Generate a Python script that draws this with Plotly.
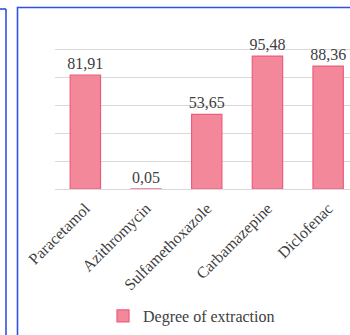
import plotly.graph_objects as go

categories = ["Paracetamol", "Azithromycin", "Sulfamethoxazole", "Carbamazepine", "Diclofenac"]
values = [81.91, 0.05, 53.65, 95.48, 88.36]
series_name = "Degree of extraction"
y_ticks = [0, 20, 40, 60, 80, 100, 120]

W, H = 350, 335
ML, MR, MT, MB = 55, 0, 22, 146
PW = W - ML - MR
PH = H - MT - MB

def px(x):
    return (x - ML) / PW

def py(y):
    return (H - MB - y) / PH

font_family = "Liberation Serif"
text_color = "#404040"

fig = go.Figure()
fig.add_trace(go.Bar(
    x=categories, y=values, name=series_name,
    width=0.5,
    marker=dict(color="#F4889B", line=dict(color="#EE5C7B", width=1.2)),
    texttemplate="%{y:.2f}", textposition="outside",
    textfont=dict(family=font_family, size=16, color=text_color),
    constraintext="none",
    cliponaxis=False,
))

blue = "#2F52E0"
shapes = [
    dict(type="rect", xref="paper", yref="paper",
         x0=px(17.5), x1=px(370), y0=py(7.5), y1=py(360),
         line=dict(color=blue, width=1.6), layer="below"),
    dict(type="line", xref="paper", yref="paper",
         x0=px(6), x1=px(6), y0=py(9), y1=py(360),
         line=dict(color=blue, width=1.6)),
    dict(type="line", xref="paper", yref="paper",
         x0=px(-20), x1=px(6), y0=py(9), y1=py(9),
         line=dict(color=blue, width=1.6)),
]

fig.update_layout(
    width=W, height=H,
    margin=dict(l=ML, r=MR, t=MT, b=MB),
    paper_bgcolor="white", plot_bgcolor="white",
    separators=", ",
    showlegend=True,
    legend=dict(orientation="h", x=px(103), xanchor="left", y=py(316), yanchor="middle",
                font=dict(family=font_family, size=16, color=text_color),
                itemwidth=30, bgcolor="rgba(0,0,0,0)"),
    xaxis=dict(range=[-0.5, 4.36], tickangle=-45,
               tickfont=dict(family=font_family, size=16, color=text_color),
               ticklabelstandoff=6,
               showline=False, showgrid=False, ticks=""),
    yaxis=dict(range=[0, 120], tickvals=y_ticks, showticklabels=False,
               showgrid=True, gridcolor="#D9D9D9", gridwidth=1,
               zeroline=True, zerolinecolor="#D9D9D9", zerolinewidth=1,
               showline=False, ticks=""),
    shapes=shapes,
    bargap=0.5,
)

fig.write_html("out.html")
